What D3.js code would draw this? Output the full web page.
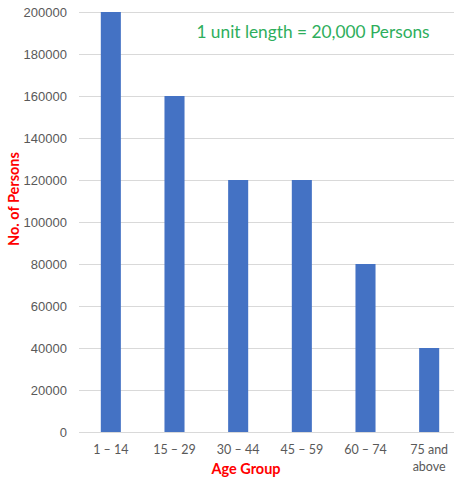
<!DOCTYPE html>
<html>
<head>
<meta charset="utf-8">
<script src="https://cdn.jsdelivr.net/npm/d3@7"></script>
<style>
  body { margin: 0; background: #fff; }
  svg { display: block; font-family: Lato, "Open Sans", sans-serif; }
</style>
</head>
<body>
<svg id="chart" width="454" height="481"></svg>
<script>
(function () {
    'use strict';

    const WIDTH = 454;
    const HEIGHT = 481;

    let ageGroups = ["1 – 14", "15 – 29", "30 – 44", "45 – 59", "60 – 74", "75 and|above"];
    let persons = [200000, 160000, 120000, 120000, 80000, 40000];
    let yTicks = [0, 20000, 40000, 60000, 80000, 100000, 120000, 140000, 160000, 180000, 200000];

    let svg = d3.select('#chart');

    let x = d3.scaleBand()
        .domain(ageGroups)
        .range([79, 461])
        .paddingInner(0.685)
        .paddingOuter(0.3425);

    let y = d3.scaleLinear()
        .domain([0, 200000])
        .range([432, 12]);

    // gridlines
    svg.append('g')
        .selectAll('line')
        .data(yTicks)
        .join('line')
        .attr('x1', 79)
        .attr('x2', WIDTH)
        .attr('y1', d => Math.round(y(d)) + 0.5)
        .attr('y2', d => Math.round(y(d)) + 0.5)
        .attr('stroke', '#d9d9d9')
        .attr('stroke-width', 1);

    // y axis labels
    let yAxis = svg.append('g')
        .attr('transform', 'translate(79,0)')
        .call(d3.axisLeft(y).tickValues(yTicks).tickSize(0).tickPadding(12).tickFormat(d3.format('d')));
    yAxis.select('.domain').remove();
    yAxis.selectAll('text')
        .attr('fill', '#595959')
        .style('font-size', '13px');

    // bars
    svg.append('g')
        .selectAll('rect')
        .data(persons)
        .join('rect')
        .attr('x', (d, i) => x(ageGroups[i]))
        .attr('width', x.bandwidth())
        .attr('y', d => y(d))
        .attr('height', d => y(0) - y(d))
        .attr('fill', '#4472c4');

    // x axis labels
    let xLabels = svg.append('g')
        .selectAll('text')
        .data(ageGroups)
        .join('text')
        .attr('x', d => x(d) + x.bandwidth() / 2)
        .attr('y', 454)
        .attr('text-anchor', 'middle')
        .attr('fill', '#595959')
        .style('font-size', '12.5px');
    xLabels.selectAll('tspan')
        .data(d => d.split('|'))
        .join('tspan')
        .attr('x', function () { return d3.select(this.parentNode).attr('x'); })
        .attr('dy', (d, i) => i === 0 ? 0 : 17)
        .text(d => d);

    // axis titles
    svg.append('text')
        .attr('x', 246)
        .attr('y', 474)
        .attr('text-anchor', 'middle')
        .attr('fill', '#ff0000')
        .style('font-size', '14.5px')
        .style('font-weight', 'bold')
        .text('Age Group');

    svg.append('text')
        .attr('transform', 'translate(19,199) rotate(-90)')
        .attr('text-anchor', 'middle')
        .attr('fill', '#ff0000')
        .style('font-size', '14.5px')
        .style('font-weight', 'bold')
        .text('No. of Persons');

    // annotation
    svg.append('text')
        .attr('x', 313)
        .attr('y', 38)
        .attr('text-anchor', 'middle')
        .attr('fill', '#2eae5c')
        .style('font-size', '17.3px')
        .text('1 unit length = 20,000 Persons');
})();
</script>
</body>
</html>
